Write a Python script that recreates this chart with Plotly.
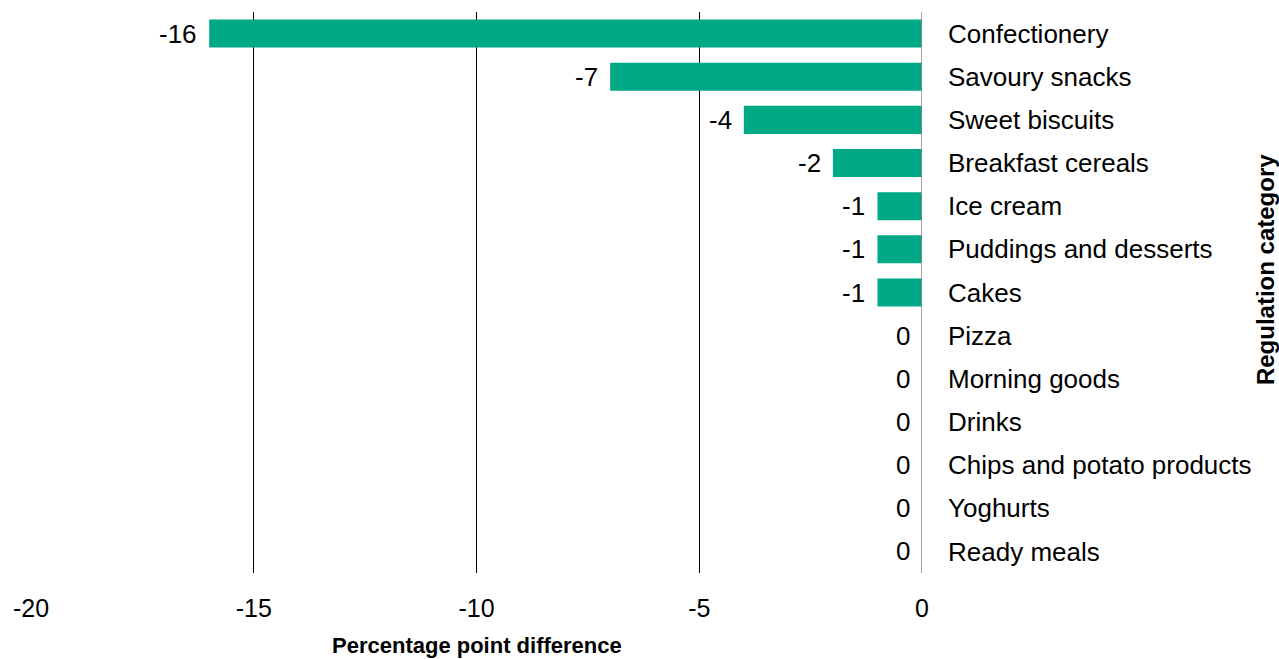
import plotly.graph_objects as go

categories = ["Confectionery", "Savoury snacks", "Sweet biscuits", "Breakfast cereals",
              "Ice cream", "Puddings and desserts", "Cakes", "Pizza", "Morning goods",
              "Drinks", "Chips and potato products", "Yoghurts", "Ready meals"]
values = [-16, -7, -4, -2, -1, -1, -1, 0, 0, 0, 0, 0, 0]
x_ticks = [-20, -15, -10, -5, 0]

FONT = "Liberation Sans"
BAR = "#00A986"

fig = go.Figure()
fig.add_trace(go.Bar(
    y=categories, x=values, orientation="h",
    marker=dict(color=BAR, line=dict(width=0)),
    hoverinfo="x+y", showlegend=False,
))

annotations = [dict(x=v, y=c, xref="x", yref="y", text=str(v), showarrow=False,
                    xanchor="right", yanchor="middle", xshift=-10,
                    font=dict(family=FONT, size=26, color="#000000"))
               for c, v in zip(categories, values)]
annotations.append(dict(text="<b>Regulation category</b>", xref="paper", yref="paper",
                        x=1.385, y=0.54, textangle=-90, showarrow=False,
                        font=dict(family=FONT, size=24, color="#000000"),
                        xanchor="center", yanchor="middle"))
annotations.append(dict(text="<b>Percentage point difference</b>", xref="paper", yref="paper",
                        x=0.5, y=0, yshift=-72, showarrow=False,
                        font=dict(family=FONT, size=22, color="#000000"),
                        xanchor="center", yanchor="middle"))

fig.update_layout(
    width=1279, height=659,
    margin=dict(l=31, r=357, t=12, b=86),
    paper_bgcolor="white", plot_bgcolor="white",
    bargap=0.35,
    font=dict(family=FONT, size=26, color="#000000"),
    xaxis=dict(
        range=[-20, 0], tickvals=x_ticks, ticktext=[str(t) for t in x_ticks],
        showgrid=True, gridcolor="#000000", gridwidth=1,
        zeroline=False, showline=False, ticks="",
        ticklabelstandoff=18, automargin=False,
        tickfont=dict(family=FONT, size=25, color="#000000"),
        fixedrange=True,
    ),
    yaxis=dict(
        categoryorder="array", categoryarray=categories, autorange="reversed",
        side="right", showgrid=False, zeroline=False, automargin=False,
        showline=False, ticks="", ticklabelstandoff=25,
        tickfont=dict(family=FONT, size=26, color="#000000"),
        fixedrange=True,
    ),
    shapes=[dict(type="line", xref="x", yref="paper", x0=0, x1=0, y0=0, y1=1,
                 line=dict(color="#868686", width=1.5))],
    annotations=annotations,
)

fig.write_html("out.html")
